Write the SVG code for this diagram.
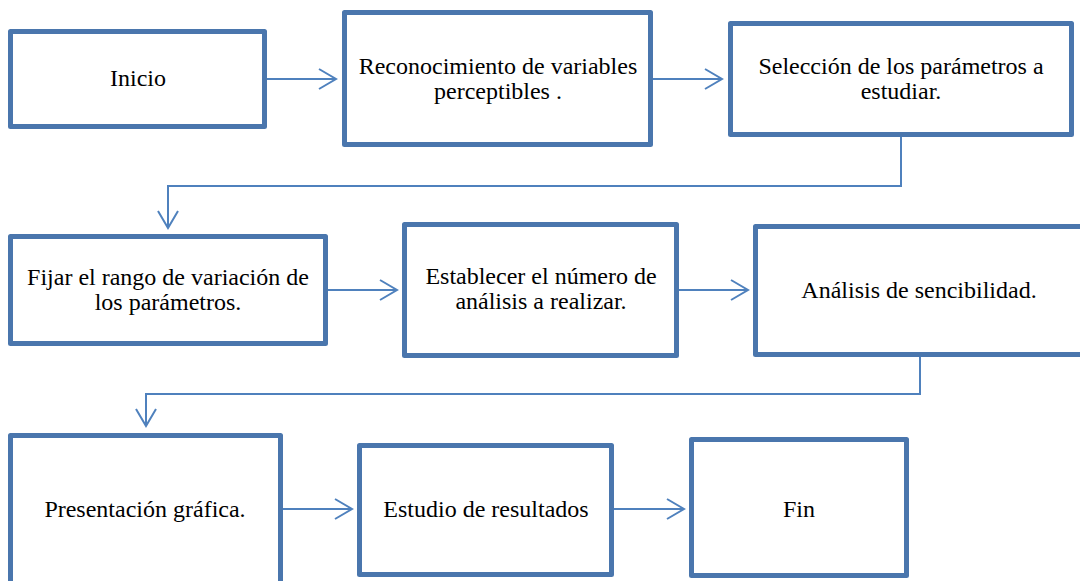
<svg xmlns="http://www.w3.org/2000/svg" width="1080" height="581" viewBox="0 0 1080 581">
<style>
.box{fill:#fff;stroke:#4A76AD;stroke-width:5;stroke-linejoin:round}
.lbl{font-size:24px;fill:#000;text-anchor:middle}
.con{fill:none;stroke:#4F81BD;stroke-width:2;marker-end:url(#arr)}
</style>
<defs>
<marker id="arr" markerUnits="userSpaceOnUse" markerWidth="20" markerHeight="24" refX="17" refY="11" orient="auto" overflow="visible">
<path d="M0,1 L17,11 L0,21" fill="none" stroke="#4F81BD" stroke-width="2"/>
</marker>
</defs>
<rect width="1080" height="581" fill="#fff"/>
<g id="connectors">
<path class="con" d="M267,79 H336"/>
<path class="con" d="M653,79 H722"/>
<path class="con" d="M901,137 V186 H168 V228"/>
<path class="con" d="M328,290 H397"/>
<path class="con" d="M679,290 H748"/>
<path class="con" d="M920,357 V394 H146 V426"/>
<path class="con" d="M283,509 H352"/>
<path class="con" d="M614,509 H684"/>
</g>
<g font-family="'Liberation Serif', 'DejaVu Serif', 'Times New Roman', serif">
<g id="n1"><rect class="box" x="10.5" y="31.5" width="254" height="95"/><text class="lbl" x="138" y="86">Inicio</text></g>
<g id="n2"><rect class="box" x="344.5" y="12.5" width="306" height="132"/><text class="lbl" x="498" y="74">Reconocimiento de variables</text><text class="lbl" x="498" y="99">perceptibles .</text></g>
<g id="n3"><rect class="box" x="730.5" y="23.5" width="341" height="111"/><text class="lbl" x="901" y="74">Selección de los parámetros a</text><text class="lbl" x="901" y="99">estudiar.</text></g>
<g id="n4"><rect class="box" x="10.5" y="236.5" width="315" height="107"/><text class="lbl" x="168" y="285">Fijar el rango de variación de</text><text class="lbl" x="168" y="310">los parámetros.</text></g>
<g id="n5"><rect class="box" x="404.5" y="224.5" width="272" height="131"/><text class="lbl" x="541" y="284">Establecer el número de</text><text class="lbl" x="541" y="309">análisis a realizar.</text></g>
<g id="n6"><rect class="box" x="755.5" y="226.5" width="330" height="128"/><text class="lbl" x="919" y="298">Análisis de sencibilidad.</text></g>
<g id="n7"><rect class="box" x="10.5" y="435.5" width="270" height="150"/><text class="lbl" x="145" y="517">Presentación gráfica.</text></g>
<g id="n8"><rect class="box" x="359.5" y="445.5" width="252" height="129"/><text class="lbl" x="486" y="517">Estudio de resultados</text></g>
<g id="n9"><rect class="box" x="691.5" y="439.5" width="215" height="136"/><text class="lbl" x="799" y="517">Fin</text></g>
</g>
</svg>
